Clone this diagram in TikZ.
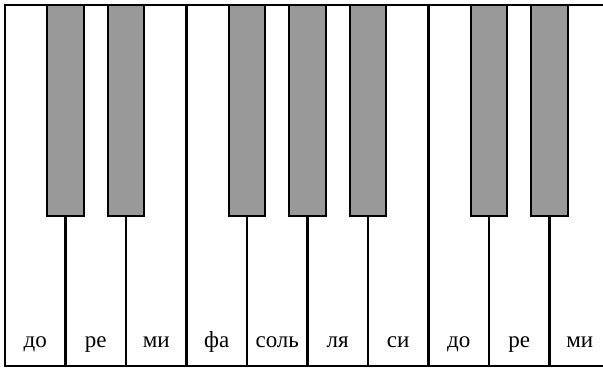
\documentclass[tikz,border=0pt]{standalone}
\usepackage{fontspec}
\setmainfont{Liberation Serif}
\begin{document}
\begin{tikzpicture}[x=1pt,y=-1pt,
  whitekey/.style={draw=black,fill=white,line width=2.2pt},
  blackkey/.style={draw=black,fill=black!40,line width=2.2pt},
  keylabel/.style={font=\fontsize{23}{26}\selectfont,anchor=base}]
\useasboundingbox (0,0) rectangle (603,368);
\clip (0,0) rectangle (603,368);
\foreach \i/\t in {0/до,1/ре,2/ми,3/фа,4/соль,5/ля,6/си,7/до,8/ре,9/ми}{
  \path[whitekey] (5+60.5*\i,5) rectangle (5+60.5*\i+60.5,366);
  \node[keylabel] (w\i) at (5+60.5*\i+30.25,347.5) {\t};
}
\foreach \i in {1,2,4,5,6,8,9}{
  \path[blackkey] (5+60.5*\i-18.2,5) rectangle (5+60.5*\i+18.2,216);
}
\end{tikzpicture}
\end{document}
